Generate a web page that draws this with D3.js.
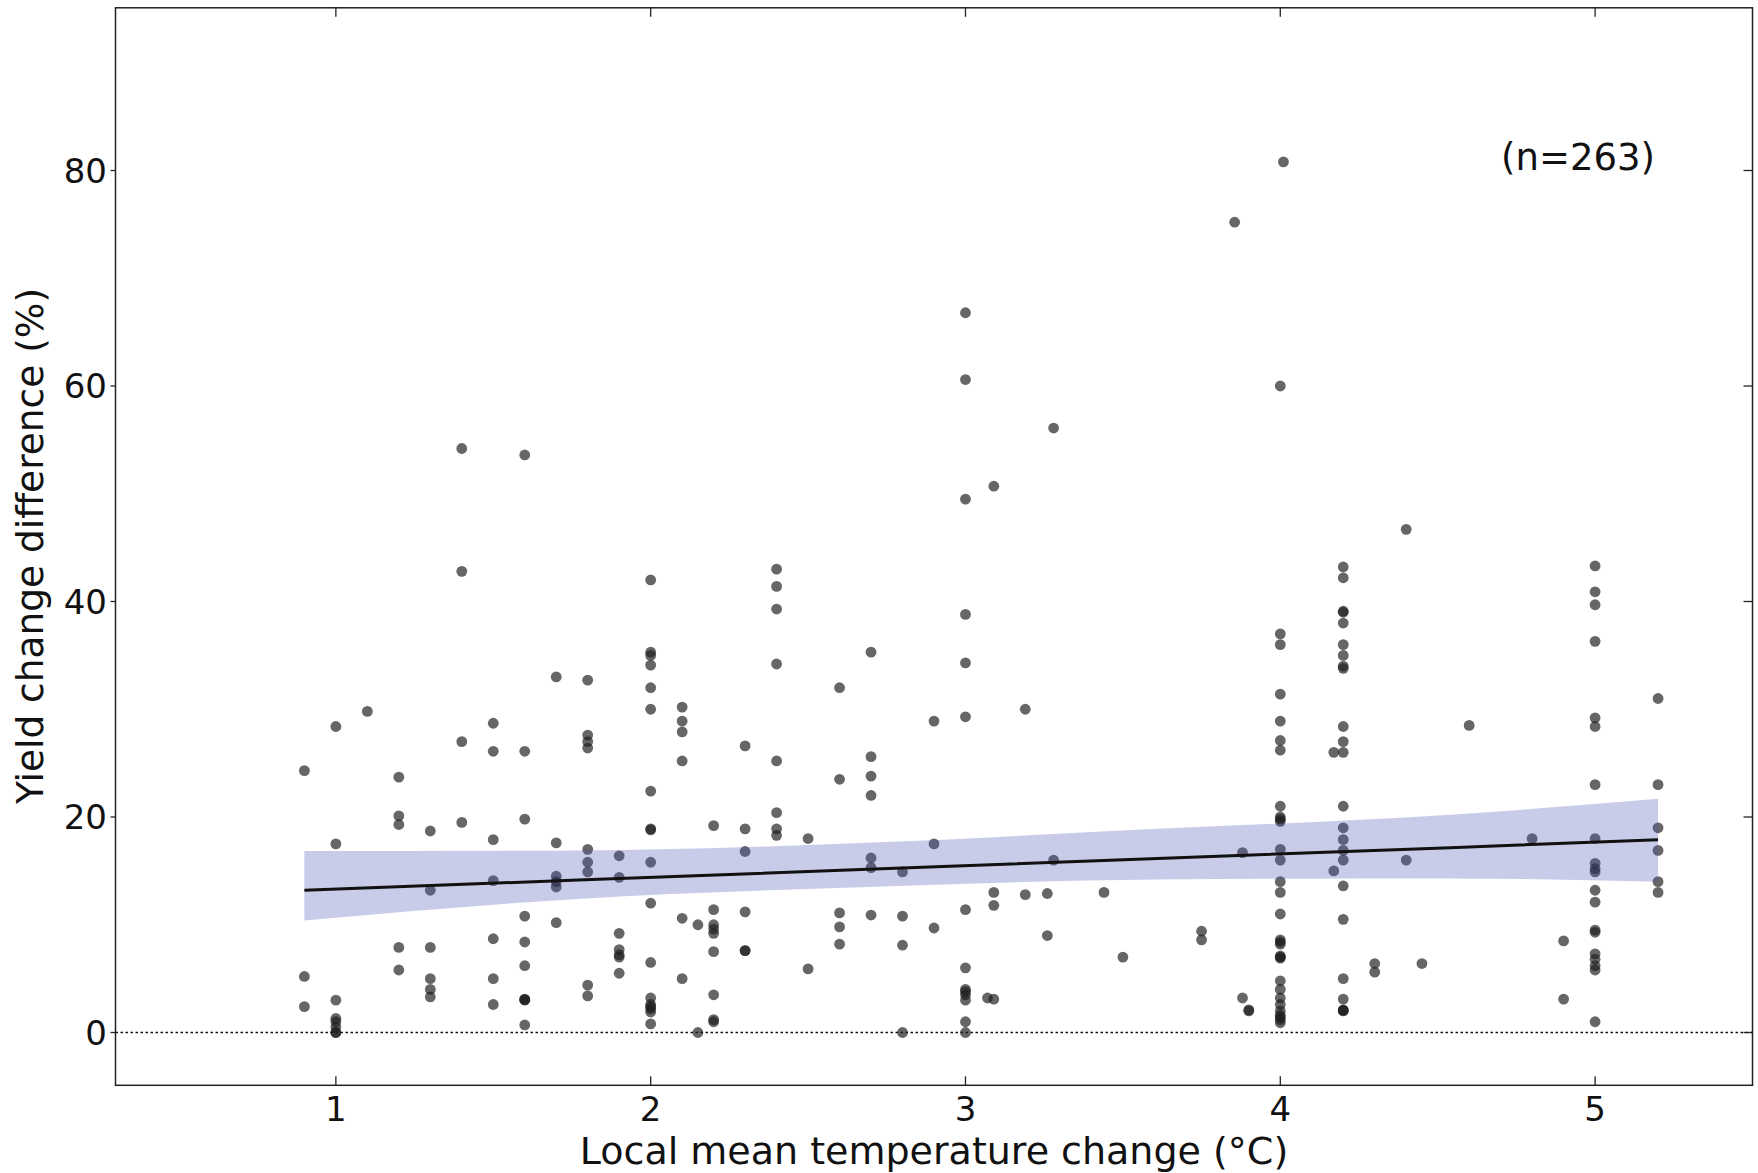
<!DOCTYPE html>
<html><head><meta charset="utf-8">
<script src="https://cdn.jsdelivr.net/npm/d3@7"></script>
<style>body{margin:0;background:#fff}svg{display:block}text{font-family:"DejaVu Sans",sans-serif;fill:#111}</style>
</head><body>
<script>
// Local mean temperature change (°C) for each column of points
const columnX = [0.9, 1.0, 1.1, 1.2, 1.3, 1.4, 1.5, 1.6, 1.7, 1.8, 1.9, 2.0, 2.1, 2.15, 2.2, 2.3, 2.4, 2.5, 2.6, 2.7, 2.8, 2.9, 3.0, 3.07, 3.09, 3.19, 3.26, 3.28, 3.44, 3.5, 3.75, 3.855, 3.88, 3.9, 4.0, 4.01, 4.17, 4.2, 4.3, 4.4, 4.45, 4.6, 4.8, 4.9, 5.0, 5.2];
// Yield change difference (%) values in each column
const columnValues = [
  [24.3, 5.2, 2.4],
  [28.4, 17.5, 3.0, 1.3, 1.0, 0.5, 0, 0],
  [29.8],
  [23.7, 20.1, 19.3, 7.9, 5.8],
  [18.7, 13.2, 7.9, 5.0, 4.0, 3.3],
  [54.2, 42.8, 27.0, 19.5],
  [28.7, 26.1, 17.9, 14.1, 8.7, 5.0, 2.6],
  [53.6, 26.1, 19.8, 10.8, 8.4, 6.2, 3.1, 3.0, 3.05, 0.7],
  [33.0, 17.6, 14.5, 14.0, 13.5, 10.2],
  [32.7, 27.6, 27.0, 26.4, 17.0, 15.8, 14.9, 4.4, 3.4],
  [16.4, 14.4, 9.2, 7.7, 7.0, 7.2, 5.5],
  [42.0, 35.3, 35.0, 34.1, 32.0, 30.0, 22.4, 18.9, 18.8, 15.8, 12.0, 6.5, 3.2, 2.6, 2.4, 2.2, 1.9, 0.8],
  [30.2, 28.9, 27.9, 25.2, 10.6, 5.0],
  [10.0, 0],
  [19.2, 11.4, 10.0, 9.6, 9.2, 7.5, 3.5, 1.2, 1.0],
  [26.6, 18.9, 16.8, 11.2, 7.6, 7.6],
  [43.0, 41.4, 39.3, 34.2, 25.2, 20.4, 18.9, 18.3],
  [18.0, 5.9],
  [32.0, 23.5, 11.1, 9.8, 8.2],
  [35.3, 25.6, 23.8, 22.0, 16.2, 15.3, 10.9],
  [14.9, 10.8, 8.1, 0],
  [28.9, 17.5, 9.7],
  [66.8, 60.6, 49.5, 38.8, 34.3, 29.3, 11.4, 6.0, 4.0, 3.8, 3.5, 3.0, 1.0, 0],
  [3.2],
  [50.7, 13.0, 11.8, 3.1],
  [30.0, 12.8],
  [12.9, 9.0],
  [56.1, 16.0],
  [13.0],
  [7.0],
  [9.4, 8.6],
  [75.2],
  [16.7, 3.2],
  [2.1, 2.0],
  [60.0, 37.0, 36.0, 31.4, 28.9, 27.1, 26.2, 21.0, 20.0, 19.8, 19.6, 17.0, 16.0, 14.0, 13.0, 11.0, 8.6, 8.4, 8.2, 7.1, 7.0, 6.9, 4.8, 4.0, 3.2, 2.6, 2.0, 1.6, 1.4, 1.2, 0.9],
  [80.8],
  [26.0, 15.0],
  [43.2, 42.2, 39.1, 39.0, 38.0, 36.0, 35.0, 34.0, 33.8, 28.4, 27.0, 26.0, 21.0, 19.0, 17.9, 16.9, 16.0, 13.6, 10.5, 5.0, 3.1, 2.1, 2.05, 2.0],
  [6.4, 5.6],
  [46.7, 16.0],
  [6.4],
  [28.5],
  [18.0],
  [8.5, 3.1],
  [43.3, 40.9, 39.7, 36.3, 29.2, 28.4, 23.0, 18.0, 15.7, 15.2, 14.9, 13.2, 12.1, 9.5, 9.3, 7.3, 6.8, 6.2, 5.8, 1.0],
  [31.0, 23.0, 19.0, 16.9, 14.0, 13.0]
];
// Regression fit and confidence band
const fitX     = [0.9, 1.77, 2.69, 3.61, 4.54, 5.2];
const fitLine  = [13.2, 14.15, 15.15, 16.15, 17.15, 17.9];
const fitUpper = [16.85, 16.9, 17.6, 18.9, 20.2, 21.7];
const fitLower = [10.4, 12.4, 13.5, 14.2, 14.3, 14.0];
const xTicks = [1, 2, 3, 4, 5];
const yTicks = [0, 20, 40, 60, 80];
const annotation = "(n=263)";
const xLabel = "Local mean temperature change (°C)";
const yLabel = "Yield change difference (%)";

const W = 1758, H = 1173;
const m = {left: 115.5, right: 1752.5, top: 7.8, bottom: 1085.3};
const svg = d3.select("body").append("svg").attr("width", W).attr("height", H);
const x = d3.scaleLinear().domain([0.3, 5.5]).range([m.left, m.right]);
const y = d3.scaleLinear().domain([-4.9, 95.1]).range([m.bottom, m.top]);

const points = [];
columnX.forEach((cx, i) => columnValues[i].forEach(v => points.push([cx, v])));

// zero reference line
svg.append("line").attr("x1", m.left).attr("x2", m.right).attr("y1", y(0)).attr("y2", y(0))
  .attr("stroke", "#111").attr("stroke-width", 1.4).attr("stroke-dasharray", "2.5,2.5");

// points
svg.append("g").selectAll("circle").data(points).join("circle")
  .attr("cx", d => x(d[0])).attr("cy", d => y(d[1])).attr("r", 5.4)
  .attr("fill", "#1e1e1e").attr("fill-opacity", 0.68);

// confidence band
const band = fitX.map((fx, i) => [fx, fitLower[i], fitUpper[i]]);
svg.append("path").datum(band)
  .attr("d", d3.area().x(d => x(d[0])).y0(d => y(d[1])).y1(d => y(d[2])).curve(d3.curveMonotoneX))
  .attr("fill", "#4a55b5").attr("fill-opacity", 0.3);

// regression line
svg.append("path").datum(fitX.map((fx, i) => [fx, fitLine[i]]))
  .attr("d", d3.line().x(d => x(d[0])).y(d => y(d[1])))
  .attr("fill", "none").attr("stroke", "#111").attr("stroke-width", 3);

// frame
svg.append("rect").attr("x", m.left).attr("y", m.top).attr("width", m.right - m.left).attr("height", m.bottom - m.top)
  .attr("fill", "none").attr("stroke", "#222").attr("stroke-width", 1.5);

// ticks
const tickG = svg.append("g").attr("stroke", "#222").attr("stroke-width", 1.3);
xTicks.forEach(t => {
  tickG.append("line").attr("x1", x(t)).attr("x2", x(t)).attr("y1", m.bottom).attr("y2", m.bottom - 9);
  tickG.append("line").attr("x1", x(t)).attr("x2", x(t)).attr("y1", m.top).attr("y2", m.top + 9);
});
yTicks.forEach(t => {
  tickG.append("line").attr("x1", m.left - 5).attr("x2", m.left).attr("y1", y(t)).attr("y2", y(t));
  tickG.append("line").attr("x1", m.right).attr("x2", m.right - 9).attr("y1", y(t)).attr("y2", y(t));
});

svg.append("g").selectAll("text").data(xTicks).join("text")
  .attr("x", d => x(d)).attr("y", 1121).attr("text-anchor", "middle")
  .attr("font-size", 34).text(d => d);
svg.append("g").selectAll("text").data(yTicks).join("text")
  .attr("x", 107).attr("y", d => y(d)).attr("dy", "0.36em").attr("text-anchor", "end")
  .attr("font-size", 34).text(d => d);

svg.append("text").attr("x", 934).attr("y", 1164).attr("text-anchor", "middle")
  .attr("font-size", 38).text(xLabel);
svg.append("text").attr("transform", "translate(43,546) rotate(-90)").attr("text-anchor", "middle")
  .attr("font-size", 37.5).text(yLabel);
svg.append("text").attr("x", 1655).attr("y", y(80) - 1).attr("text-anchor", "end")
  .attr("font-size", 37).text(annotation);
</script>
</body></html>
